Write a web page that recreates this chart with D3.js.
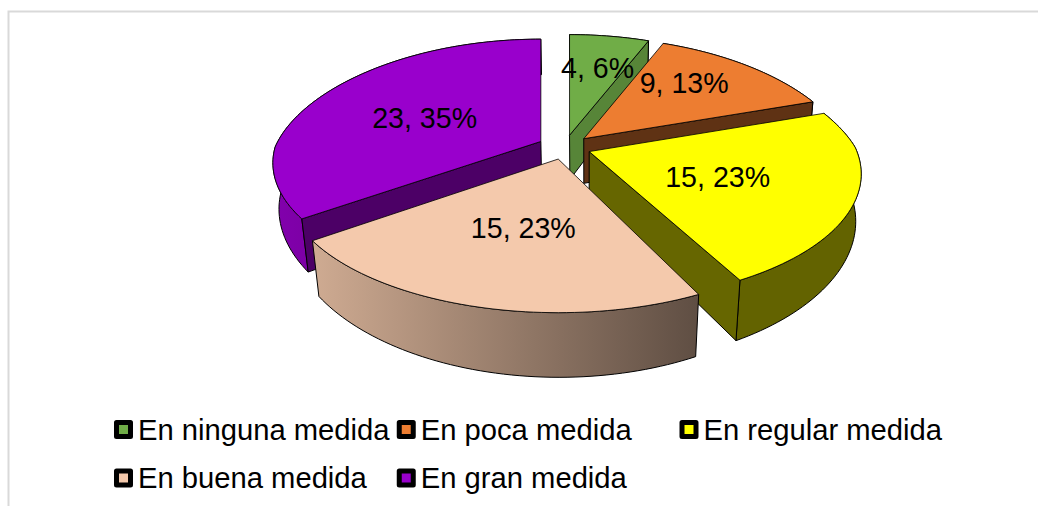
<!DOCTYPE html>
<html><head><meta charset="utf-8">
<script src="https://cdn.jsdelivr.net/npm/d3@7"></script>
<style>html,body{margin:0;padding:0;background:#fff}svg{display:block}text{font-family:"Liberation Sans",Arial,sans-serif;fill:#000}</style>
</head><body><div id="c"></div>
<script>
const categories=["En ninguna medida","En poca medida","En regular medida","En buena medida","En gran medida"];
const values=[4,9,15,15,23];
const percents=["6%","13%","23%","23%","35%"];
const colors=["#70ad47","#ed7d31","#ffff00","#f4c9ac","#9900cc"];
const wallColors=["#578538","#5f3214","#666600","#5f3214","#4c0066"];
const W=1038,H=506;
const svg=d3.select("#c").append("svg").attr("width",W).attr("height",H);
svg.append("path").attr("d",`M8.5 506V11.5H1038`).attr("fill","none").attr("stroke","#d9d9d9").attr("stroke-width",2);

const cx=564.5,cy=147,fx=266,gy=122,persp=0.175,perspBack=0.245,explode=0.1,depth=45.5,depthPersp=0.27;
const sx=d3.scaleLinear().domain([0,1]).range([0,fx]);
const sy=d3.scaleLinear().domain([0,1]).range([0,gy]);
function parts(angle,rho,mid){return {ou:explode*Math.sin(mid),u:rho*Math.sin(angle),v:-explode*Math.cos(mid)-rho*Math.cos(angle)};}
function project({ou,u,v},down){
  const w=1-persp*v, wx=1-(v<0?perspBack:persp)*v, x=cx+sx(ou)+sx(u)/wx, y=cy+sy(v)/w;
  if(!down) return [x,y];
  const h=depth/(1-depthPersp*v);
  return [x+(587-x)*h/(2600-y),y+h];
}
const pie=d3.pie().sort(null).value(d=>d);
const arcs=pie(values);
const startTrim=[0,0,0,0.025,0];
const endTrim=[0,0,-0.02,0,0];
const line=d3.line();
const shade=d3.scaleLinear().domain([272,320,697,860]).range([0.85,0.85,0.39,0.39]).clamp(true);
const defs=svg.append("defs");
const order=[0,1,4,2,3];
function put(sel,d,fill,sw=1){return sel.append("path").attr("d",d).attr("fill",fill).attr("stroke","#000").attr("stroke-width",sw).attr("stroke-linejoin","round");}
order.forEach(i=>{
  const a=arcs[i],mid=(a.startAngle+a.endAngle)/2,a0=a.startAngle+startTrim[i],a1=a.endAngle+endTrim[i];
  const g=svg.append("g");
  const apex=project(parts(0,0,mid)),apexD=project(parts(0,0,mid),true);
  const pt=(t,r=1,down=false)=>project(parts(t,r,mid),down);
  const n=Math.max(8,Math.round((a1-a0)*40));
  const ts=d3.range(n+1).map(j=>a0+(a1-a0)*j/n);
  const rimTop=ts.map(t=>pt(t)),rimBot=ts.map(t=>pt(t,1,true));
  const mp=pt(mid);
  const gid="g"+i,c=d3.rgb(colors[i]);
  const xs=rimTop.map(p=>p[0]),x0=d3.min(xs),x1=d3.max(xs);
  const grad=defs.append("linearGradient").attr("id",gid).attr("gradientUnits","userSpaceOnUse").attr("x1",x0).attr("x2",x1).attr("y1",0).attr("y2",0);
  [x0,x1].forEach((x,j)=>{const s=shade(x);grad.append("stop").attr("offset",j).attr("stop-color",d3.rgb(c.r*s,c.g*s,c.b*s).formatHex());});
  put(g,line(rimTop.concat(rimBot.slice().reverse()))+"Z",`url(#${gid})`);
  [a0,a1].forEach(t=>{
    const r=pt(t),dx=r[0]-apex[0],dy=r[1]-apex[1],mx=mp[0]-apex[0],my=mp[1]-apex[1];
    const pr=(mx*dx+my*dy)/(dx*dx+dy*dy);
    if(-(my-dy*pr)>1) put(g,line([apex,r,pt(t,1,true),apexD])+"Z",wallColors[i]);
  });
  put(g,line([apex].concat(rimTop))+"Z",colors[i],0.8);
});
const labelRho=[0.66,0.68,0.5,0.5,0.51];
const labelTurn=[0,-0.12,0,0,-0.05];
arcs.forEach((a,i)=>{
  const mid=(a.startAngle+a.endAngle)/2,p=project(parts(mid+labelTurn[i],labelRho[i],mid));
  svg.append("text").attr("x",p[0]).attr("y",p[1]).attr("dy","0.4em").attr("text-anchor","middle").attr("font-size",28.6).text(`${values[i]}, ${percents[i]}`);
});
const lx=d3.scalePoint().domain([0,1,2]).range([116.5,682]);
const ly=d3.scalePoint().domain([0,1]).range([429.5,478]);
categories.forEach((c,i)=>{
  const col=i%3,row=Math.floor(i/3),x=lx(col),y=ly(row);
  svg.append("rect").attr("x",x).attr("y",y-7).attr("width",14).attr("height",14).attr("fill",colors[i]).attr("stroke","#000").attr("stroke-width",5).attr("stroke-linejoin","round");
  svg.append("text").attr("x",x+21.5).attr("y",y+10).attr("font-size",29.2).text(c);
});
</script></body></html>
